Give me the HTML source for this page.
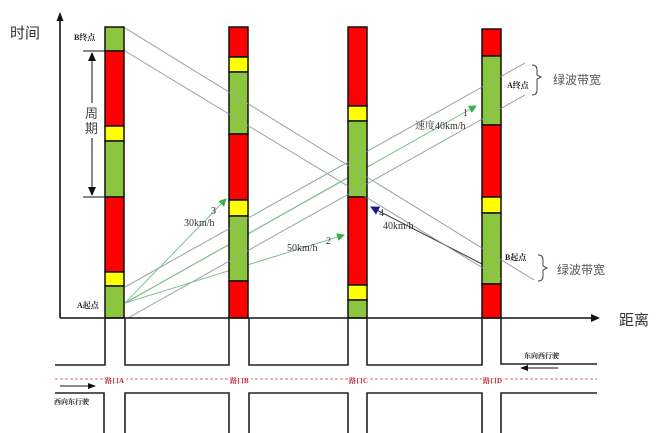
<!DOCTYPE html>
<html><head><meta charset="utf-8"><style>
html,body{margin:0;padding:0;background:#fff;}
svg{display:block;}
text{font-family:"Liberation Serif","Noto Serif CJK SC",serif;}
.cj{font-family:"Liberation Sans","Noto Sans CJK SC",sans-serif;}
</style></head><body>
<svg width="660" height="433" viewBox="0 0 660 433" xmlns="http://www.w3.org/2000/svg">
<defs>
<marker id="ag" markerWidth="8" markerHeight="8" refX="7" refY="4" orient="auto" markerUnits="userSpaceOnUse"><path d="M0,0 L8,4 L0,8 z" fill="#3cb04a"/></marker>
<marker id="ab" markerWidth="9" markerHeight="9" refX="8" refY="4.5" orient="auto" markerUnits="userSpaceOnUse"><path d="M0,0 L9,4.5 L0,9 z" fill="#1a1a8c"/></marker>
</defs>
<!-- lines behind -->
<g stroke="#9aaaa8" stroke-width="1" fill="none">
<line x1="125" y1="28" x2="534" y2="280"/>
<line x1="125" y1="51" x2="501" y2="279"/>
<line x1="125" y1="287" x2="525" y2="63"/>
<line x1="128" y1="318" x2="525" y2="95"/>
<line x1="125" y1="303" x2="370" y2="165"/>
</g>
<g stroke="#7cc08a" stroke-width="1" fill="none">
<line x1="125" y1="303" x2="476" y2="106" marker-end="url(#ag)"/>
<line x1="125" y1="303" x2="344" y2="235" marker-end="url(#ag)"/>
<line x1="125" y1="303" x2="226" y2="199" marker-end="url(#ag)"/>
</g>
<line x1="482" y1="264" x2="371" y2="207" stroke="#334" stroke-width="1" marker-end="url(#ab)"/>
<!-- bars -->
<g stroke="#111" stroke-width="1.5">
<rect x="105" y="27" width="19" height="24" fill="#8cc63f"/>
<rect x="105" y="51" width="19" height="75" fill="#ff0000"/>
<rect x="105" y="126" width="19" height="15" fill="#ffff00"/>
<rect x="105" y="141" width="19" height="56" fill="#8cc63f"/>
<rect x="105" y="197" width="19" height="75" fill="#ff0000"/>
<rect x="105" y="272" width="19" height="14" fill="#ffff00"/>
<rect x="105" y="286" width="19" height="32" fill="#8cc63f"/>

<rect x="229" y="27" width="19" height="30" fill="#ff0000"/>
<rect x="229" y="57" width="19" height="15" fill="#ffff00"/>
<rect x="229" y="72" width="19" height="62" fill="#8cc63f"/>
<rect x="229" y="134" width="19" height="66" fill="#ff0000"/>
<rect x="229" y="200" width="19" height="16" fill="#ffff00"/>
<rect x="229" y="216" width="19" height="65" fill="#8cc63f"/>
<rect x="229" y="281" width="19" height="37" fill="#ff0000"/>

<rect x="348" y="27" width="19" height="79" fill="#ff0000"/>
<rect x="348" y="106" width="19" height="15" fill="#ffff00"/>
<rect x="348" y="121" width="19" height="76" fill="#8cc63f"/>
<rect x="348" y="197" width="19" height="88" fill="#ff0000"/>
<rect x="348" y="285" width="19" height="15" fill="#ffff00"/>
<rect x="348" y="300" width="19" height="18" fill="#8cc63f"/>

<rect x="482" y="29" width="19" height="27" fill="#ff0000"/>
<rect x="482" y="56" width="19" height="69" fill="#8cc63f"/>
<rect x="482" y="125" width="19" height="72" fill="#ff0000"/>
<rect x="482" y="197" width="19" height="16" fill="#ffff00"/>
<rect x="482" y="213" width="19" height="71" fill="#8cc63f"/>
<rect x="482" y="284" width="19" height="34" fill="#ff0000"/>
</g>
<!-- lines over bars (visible crossing) -->
<g stroke="#9aaaa8" stroke-width="0.8" fill="none" opacity="0.7">
<line x1="125" y1="28" x2="534" y2="280"/>
<line x1="125" y1="51" x2="501" y2="279"/>
<line x1="125" y1="287" x2="525" y2="63"/>
<line x1="128" y1="318" x2="525" y2="95"/>
</g>
<!-- axes -->
<g stroke="#111" stroke-width="1.6" fill="none">
<line x1="60" y1="18" x2="60" y2="318"/>
<line x1="60" y1="318" x2="594" y2="318"/>
</g>
<path d="M60,12 L56.5,21 L63.5,21 z" fill="#111"/>
<path d="M600,318 L591,314 L591,322 z" fill="#111"/>
<text x="10" y="38" class="cj" font-size="15" fill="#333">时间</text>
<text x="619" y="325" class="cj" font-size="15" fill="#333">距离</text>
<!-- period -->
<g stroke="#111" stroke-width="1">
<line x1="83" y1="51" x2="105" y2="51"/>
<line x1="83" y1="197" x2="105" y2="197"/>
<line x1="92" y1="60" x2="92" y2="103"/>
<line x1="92" y1="138" x2="92" y2="188"/>
</g>
<path d="M92,52 L88,61 L96,61 z M92,196 L88,187 L96,187 z" fill="#111"/>
<text x="85" y="118" class="cj" font-size="13" fill="#444">周</text>
<text x="85" y="133" class="cj" font-size="13" fill="#444">期</text>
<!-- labels -->
<g class="cj" font-size="8" font-weight="bold" fill="#222">
<text x="74" y="40">B终点</text>
<text x="77" y="308">A起点</text>
<text x="507" y="88">A终点</text>
<text x="505" y="260">B起点</text>
</g>
<g font-size="10" fill="#333">
<text x="463" y="116">1</text>
<text x="415" y="129">速度40km/h</text>
<text x="326" y="244">2</text>
<text x="287" y="251">50km/h</text>
<text x="211" y="214">3</text>
<text x="184" y="226">30km/h</text>
<text x="379" y="216">4</text>
<text x="383" y="229">40km/h</text>
</g>
<!-- brackets -->
<g stroke="#444" stroke-width="1" fill="none">
<path d="M532,65 Q537,65 537,70 L537,75 L541,77 L537,79 L537,90 Q537,95 532,95"/>
<path d="M538,255 Q543,255 543,260 L543,266 L547,268 L543,270 L543,276 Q543,281 538,281"/>
</g>
<text x="553" y="84" class="cj" font-size="12" fill="#555">绿波带宽</text>
<text x="557" y="274" class="cj" font-size="12" fill="#555">绿波带宽</text>
<!-- roads -->
<g stroke="#222" stroke-width="1.6" fill="none">
<polyline points="55,365 105,365 105,318"/>
<polyline points="125,318 125,365 229,365 229,318"/>
<polyline points="249,318 249,365 348,365 348,318"/>
<polyline points="367,318 367,365 482,365 482,318"/>
<polyline points="501,318 501,364 597,364"/>
<polyline points="55,393 104,393 104,433"/>
<polyline points="125,433 125,393 229,393 229,433"/>
<polyline points="249,433 249,393 348,393 348,433"/>
<polyline points="367,433 367,393 482,393 482,433"/>
<polyline points="501,433 501,393 597,393"/>
</g>
<line x1="55" y1="379" x2="597" y2="379" stroke="#c04040" stroke-width="0.8" stroke-dasharray="3,2"/>
<g class="cj" font-size="7" font-weight="bold" fill="#c02030">
<rect x="104" y="375" width="22" height="9" fill="#fff"/><text x="105" y="383">路口A</text>
<rect x="229" y="375" width="22" height="9" fill="#fff"/><text x="230" y="383">路口B</text>
<rect x="348" y="375" width="22" height="9" fill="#fff"/><text x="349" y="383">路口C</text>
<rect x="482" y="375" width="22" height="9" fill="#fff"/><text x="483" y="383">路口D</text>
</g>
<line x1="60" y1="386" x2="90" y2="386" stroke="#111" stroke-width="1"/>
<path d="M96,386 L88,383 L88,389 z" fill="#111"/>
<line x1="526" y1="368" x2="558" y2="368" stroke="#111" stroke-width="1"/>
<path d="M520,368 L528,365 L528,371 z" fill="#111"/>
<g class="cj" font-size="7" font-weight="bold" fill="#222">
<text x="54" y="404">西向东行驶</text>
<text x="524" y="358">东向西行驶</text>
</g>
</svg>
</body></html>
